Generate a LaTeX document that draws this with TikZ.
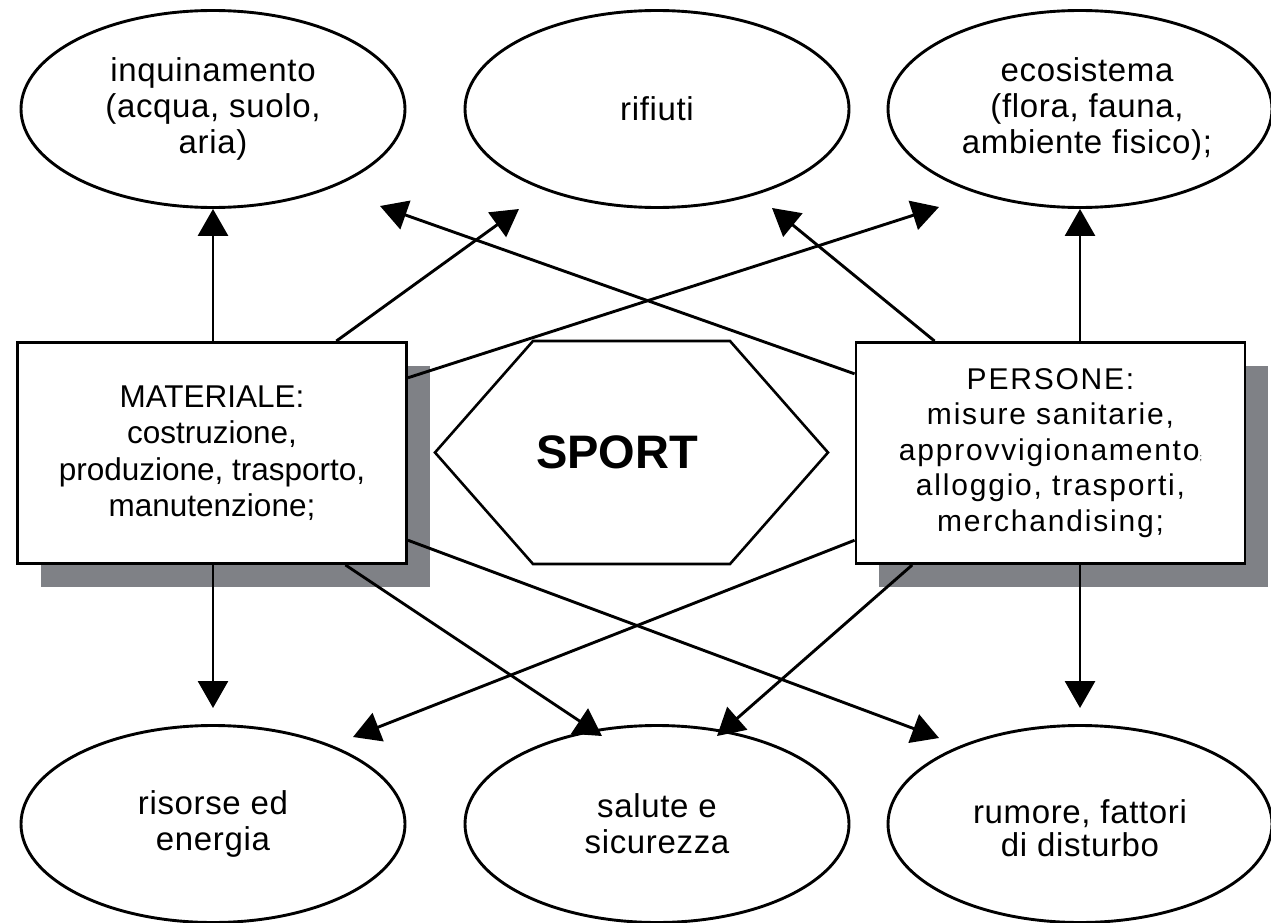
\documentclass[tikz,border=0pt]{standalone}
\usepackage{fontspec}
\setmainfont{Liberation Sans}
\newfontfamily\spacedfont[LetterSpace=2]{Liberation Sans}
\newfontfamily\widefont[LetterSpace=6]{Liberation Sans}
\usetikzlibrary{arrows.meta,shapes.geometric,shadows,calc}
\definecolor{shadowgray}{RGB}{127,129,134}
\begin{document}
\begin{tikzpicture}[x=1pt,y=-1pt,line width=2.9pt,
  oval/.style={ellipse,draw,minimum width=384pt,minimum height=197pt,inner sep=0pt,align=center,font=\spacedfont\fontsize{33}{36}\selectfont},
  boxnode/.style={rectangle,draw,fill=white,inner sep=0pt,align=center,minimum width=389pt,minimum height=221pt,drop shadow={shadow xshift=23pt,shadow yshift=-23pt,fill=shadowgray,opacity=1}},
  arr/.style={-{Triangle[length=27pt,width=30pt]}},
  hexline/.style={line width=2.6pt,line join=miter}
]
\fill[white] (0,0) rectangle (1271,923);
\useasboundingbox (0,0) rectangle (1271,923);

% ellipses
\node[oval] (inq) at (213,109) {inquinamento\\(acqua, suolo,\\aria)};
\node[oval] (rif) at (657,109) {rifiuti};
\node[oval] (eco) at (1080,109) {\hspace*{14pt}ecosistema\\\hspace*{14pt}(flora, fauna,\\\hspace*{14pt}ambiente fisico);};
\node[oval] (ris) at (213,824) {risorse ed\\energia};
\node[oval] (sal) at (657,824) {salute e\\sicurezza};
\node[oval] (rum) at (1080,824) {\raisebox{-9pt}[\height][\depth]{\begin{tabular}{@{}c@{}}rumore, fattori\\[-3pt]di disturbo\end{tabular}}};

% boxes
\node[boxnode,font=\fontsize{31.5}{36.5}\selectfont] (mat) at (212,453)
  {MATERIALE:\\costruzione,\\produzione, trasporto,\\manutenzione;};
\node[boxnode,font=\widefont\fontsize{30}{35.5}\selectfont] (per) at (1050.5,453)
  {PERSONE:\\misure sanitarie,\\approvvigionamento{\fontsize{9}{9}\selectfont ;}\\alloggio, trasporti,\\merchandising;};

% hexagon
\node[font=\bfseries\fontsize{47}{50}\selectfont] (sport) at (617,452) {SPORT};
\draw[hexline] (435,452.5) -- (533,341) -- (730,341) -- (828,452.5) -- (730,564) -- (533,564) -- cycle;

% arrow tips
\coordinate (t2) at (519,209);
\coordinate (t3) at (939,207);
\coordinate (t4) at (380,206);
\coordinate (t5) at (772,208);
\coordinate (b1) at (213,708);
\coordinate (b8) at (602,736);
\coordinate (b9) at (939,738);
\coordinate (b10) at (353,737);
\coordinate (b11) at (717,736);
\coordinate (b12) at (1080,708);

% connectors
\draw[arr] (mat.north -| inq.south) -- (inq.south);
\draw[arr] (mat.42.8) -- (t2);
\draw[arr] (mat.21.5) -- (t3);
\draw[arr] (per.158.4) -- (t4);
\draw[arr] (per.136.7) -- (t5);
\draw[arr] (per.north -| eco.south) -- (eco.south);
\draw[arr] (mat.south -| ris.north) -- (b1);
\draw[arr] (mat.-40.1) -- (b8);
\draw[arr] (mat.-24.7) -- (b9);
\draw[arr] (per.204.1) -- (b10);
\draw[arr] (per.219.7) -- (b11);
\draw[arr] (per.south -| rum.north) -- (b12);
\end{tikzpicture}
\end{document}
